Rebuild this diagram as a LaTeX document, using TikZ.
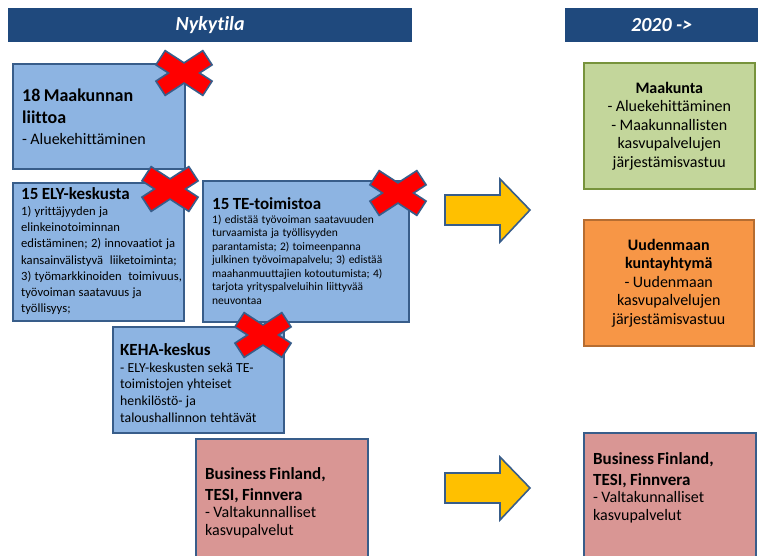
\documentclass[tikz,border=0pt]{standalone}
\usepackage{fontspec}
\setmainfont{Carlito}[Ligatures=NoCommon]
\definecolor{hdrblue}{RGB}{31,73,125}
\definecolor{boxblue}{RGB}{141,180,226}
\definecolor{edgeblue}{RGB}{56,93,138}
\definecolor{boxgreen}{RGB}{195,214,155}
\definecolor{edgegreen}{RGB}{119,147,60}
\definecolor{boxorange}{RGB}{247,150,70}
\definecolor{edgeorange}{RGB}{182,109,49}
\definecolor{boxpink}{RGB}{217,150,148}
\definecolor{arrowyellow}{RGB}{255,192,0}
\definecolor{xred}{RGB}{255,0,0}
\newcommand\fsz[2]{\fontsize{#1}{#2}\selectfont}
\tikzset{
  hdr/.style={fill=hdrblue, draw=none, anchor=north west, inner sep=0pt, text=white,
    font=\fsz{20}{23}\bfseries\itshape},
  basebox/.style={anchor=north west, line width=1.6pt, inner xsep=9pt, inner ysep=0pt, align=center},
  bluebox/.style={basebox, fill=boxblue, draw=edgeblue},
  greenbox/.style={basebox, fill=boxgreen, draw=edgegreen},
  orangebox/.style={basebox, fill=boxorange, draw=edgeorange},
  pinkbox/.style={basebox, fill=boxpink, draw=edgeblue},
  boxtext/.style={anchor=west, align=left, inner sep=0pt, text width=220pt},
  bigarrow/.style={fill=arrowyellow, draw=edgeblue, line width=1.6pt, line join=miter},
  redx/.pic={
    \foreach \a in {33,-33} \draw[edgeblue, line width=3.6pt, rotate=\a] (-27,-7.5) rectangle (27,7.5);
    \foreach \a in {33,-33} \fill[xred, rotate=\a] (-27,-7.5) rectangle (27,7.5);
  }
}
\begin{document}
\begin{tikzpicture}[x=1pt,y=-1pt]
\useasboundingbox (0,0) rectangle (761,556);
\clip (0,0) rectangle (761,556);
% headers
\node[hdr, minimum width=404pt, minimum height=34pt] (hnow) at (8,8) {Nykytila};
\node[hdr, minimum width=193pt, minimum height=34pt] (hnew) at (565,8) {2020 ->};
% left boxes
\node[bluebox, minimum width=172pt, minimum height=105pt] (liitto) at (12,63) {};
\node[boxtext] (liittotext) at (22,117)
  {{\fsz{18}{22}\bfseries 18 Maakunnan\\ liittoa\par}{\fsz{16}{21}- Aluekehittäminen\par}};
\node[bluebox, minimum width=171pt, minimum height=138pt] (ely) at (12,182) {};
\node[boxtext] (elytext) at (21,251)
  {{\fsz{17}{20}\bfseries 15 ELY-keskusta\par}{\fsz{12.6}{16.2}1) yrittäjyyden ja\\ elinkeinotoiminnan\\ edistäminen; 2) innovaatiot ja\\ kansainvälistyvä\ \ liiketoiminta;\\ 3) työmarkkinoiden\ \ toimivuus,\\ työvoiman saatavuus ja\\ työllisyys;\par}};
\node[bluebox, minimum width=206pt, minimum height=141pt] (te) at (202,180) {};
\node[boxtext] (tetext) at (212,251)
  {{\fsz{17}{20}\bfseries 15 TE-toimistoa\par}{\fsz{11.5}{13.5}1) edistää työvoiman saatavuuden\\ turvaamista ja työllisyyden\\ parantamista; 2) toimeenpanna\\ julkinen työvoimapalvelu; 3) edistää\\ maahanmuuttajien kotoutumista; 4)\\ tarjota yrityspalveluihin liittyvää\\ neuvontaa\par}};
\node[bluebox, minimum width=171pt, minimum height=106pt] (keha) at (112,326) {};
\node[boxtext] (kehatext) at (120,383)
  {{\fsz{17}{21}\bfseries KEHA-keskus\par}{\fsz{13.8}{16.7}- ELY-keskusten sekä TE-\\ toimistojen yhteiset\\ henkilöstö- ja\\ taloushallinnon tehtävät\par}};
\node[pinkbox, minimum width=172pt, minimum height=130pt] (bfl) at (195,438) {};
\node[boxtext] (bfltext) at (205,503)
  {{\fsz{17}{20.5}\bfseries Business Finland,\\ TESI, Finnvera\par}{\fsz{16}{17.5}- Valtakunnalliset\\ kasvupalvelut\par}};
% right boxes
\node[greenbox, minimum width=171pt, minimum height=126pt, text width=153pt] (maak) at (583,62)
  {{\fsz{16}{18.5}\bfseries Maakunta\par}{\fsz{16}{18.5}- Aluekehittäminen\\ - Maakunnallisten\\ kasvupalvelujen\\ järjestämisvastuu\par}};
\node[orangebox, minimum width=170pt, minimum height=126pt, text width=152pt] (uusi) at (583,219)
  {{\fsz{16}{18.5}\bfseries Uudenmaan\\ kuntayhtymä\par}{\fsz{16}{18.5}- Uudenmaan\\ kasvupalvelujen\\ järjestämisvastuu\par}};
\node[pinkbox, minimum width=172pt, minimum height=140pt] (bfr) at (583,432) {};
\node[boxtext] (bfrtext) at (593,488)
  {{\fsz{17}{20.5}\bfseries Business Finland,\\ TESI, Finnvera\par}{\fsz{16}{17.5}- Valtakunnalliset\\ kasvupalvelut\par}};
% arrows
\draw[bigarrow] (445,195) -- (500,195) -- (500,179) -- (530,210) -- (500,242) -- (500,225) -- (445,225) -- cycle;
\draw[bigarrow] (445,473) -- (500,473) -- (500,457) -- (530,488) -- (500,520) -- (500,503) -- (445,503) -- cycle;
% red crosses
\pic at (184,73) {redx};
\pic at (170,189) {redx};
\pic at (398,193) {redx};
\pic at (263,335) {redx};
\end{tikzpicture}
\end{document}
